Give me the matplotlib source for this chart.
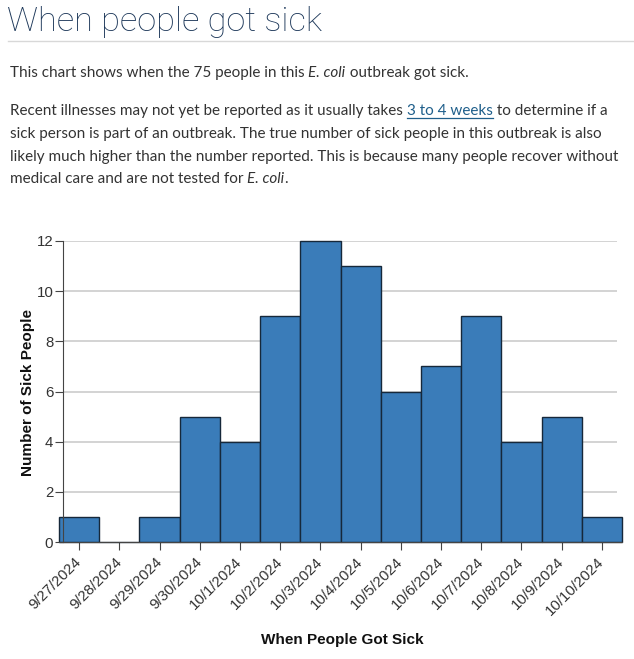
import matplotlib.pyplot as plt
import matplotlib.transforms as mtransforms
from matplotlib.lines import Line2D

dates = ['9/27/2024', '9/28/2024', '9/29/2024', '9/30/2024', '10/1/2024', '10/2/2024',
         '10/3/2024', '10/4/2024', '10/5/2024', '10/6/2024', '10/7/2024', '10/8/2024',
         '10/9/2024', '10/10/2024']
sick_counts = [1, 0, 1, 5, 4, 9, 12, 11, 6, 7, 9, 4, 5, 1]
y_ticks = [0, 2, 4, 6, 8, 10, 12]

W, H = 634, 659
fig = plt.figure(figsize=(W / 100, H / 100), dpi=100)
renderer = fig.canvas.get_renderer()

def px(x, y):
    return x / W, 1 - y / H

# header
title = fig.text(*px(7, 31), 'When people got sick', fontsize=24, family='Roboto', weight='light',
                 color='#1c3759', va='baseline')
tw = title.get_window_extent(renderer).width
title.set_fontsize(24 * 315 / tw)
fig.add_artist(Line2D([8 / W, 1], [1 - 41 / H] * 2, color='#d8d8d8', lw=1))

body = dict(fontsize=11, family='Lato', color='#333333', va='baseline')

def draw_runs(x, y, runs):
    for txt, style in runs:
        kw = dict(body)
        if style == 'i':
            kw['style'] = 'italic'
        if style == 'link':
            kw['color'] = '#1f5f8b'
        t = fig.text(*px(x, y), txt, **kw)
        w = t.get_window_extent(renderer).width
        if style == 'link':
            fig.add_artist(Line2D([x / W, (x + w) / W], [1 - (y + 2.5) / H] * 2,
                                  color='#1f5f8b', lw=0.9))
        x += w

draw_runs(10, 77, [('This chart shows when the 75 people in this ', ''), ('E. coli', 'i'),
                   (' outbreak got sick.', '')])
draw_runs(10, 115, [('Recent illnesses may not yet be reported as it usually takes ', ''),
                    ('3 to 4 weeks', 'link'), (' to determine if a', '')])
draw_runs(10, 138, [('sick person is part of an outbreak. The true number of sick people in this outbreak is also', '')])
draw_runs(10, 161, [('likely much higher than the number reported. This is because many people recover without', '')])
draw_runs(10, 183, [('medical care and are not tested for ', ''), ('E. coli', 'i'), ('.', '')])

# chart
left, right, top, bottom = 59, 622, 241, 542
ax = fig.add_axes([left / W, 1 - bottom / H, (right - left) / W, (bottom - top) / H])
xs = list(range(len(dates)))
ax.set_xlim(-0.5, len(dates) - 0.5)
ax.set_ylim(0, 12)

ax.hlines(y_ticks[1:], -0.4, 13.38, color='#c8c8c8', lw=1.1, zorder=0)
ax.bar(xs, sick_counts, width=1.0, color='#3a7cb9', edgecolor='#16283a', lw=1.0,
       zorder=2, clip_on=False)

for s in ['top', 'right']:
    ax.spines[s].set_visible(False)
ax.spines['left'].set_position(('data', -0.4))
ax.spines['left'].set_color('#444444')
ax.spines['bottom'].set_color('#444444')
ax.spines['bottom'].set_zorder(3)

ax.set_yticks(y_ticks)
ax.set_xticks(xs)
ax.set_xticklabels(dates, rotation=45, ha='right', va='center', rotation_mode='anchor',
                   fontsize=10.8, family='Liberation Sans', color='#333333')
shift = mtransforms.ScaledTranslation(5 / 100, 0, fig.dpi_scale_trans)
for lab in ax.get_xticklabels():
    lab.set_transform(lab.get_transform() + shift)
ax.tick_params(axis='x', length=6, color='#444444', pad=7)
ax.tick_params(axis='y', length=6, color='#444444', labelsize=10.8, labelcolor='#333333', pad=1)
for lab in ax.get_yticklabels():
    lab.set_family('Liberation Sans')

fig.text(*px(28, 393), 'Number of Sick People', rotation=90, ha='center', va='center',
         fontsize=11, weight='bold', family='Liberation Sans', color='#111111')
fig.text(*px(342, 640), 'When People Got Sick', ha='center', va='center',
         fontsize=11, weight='bold', family='Liberation Sans', color='#111111')

fig.savefig('out.png', dpi=100)
